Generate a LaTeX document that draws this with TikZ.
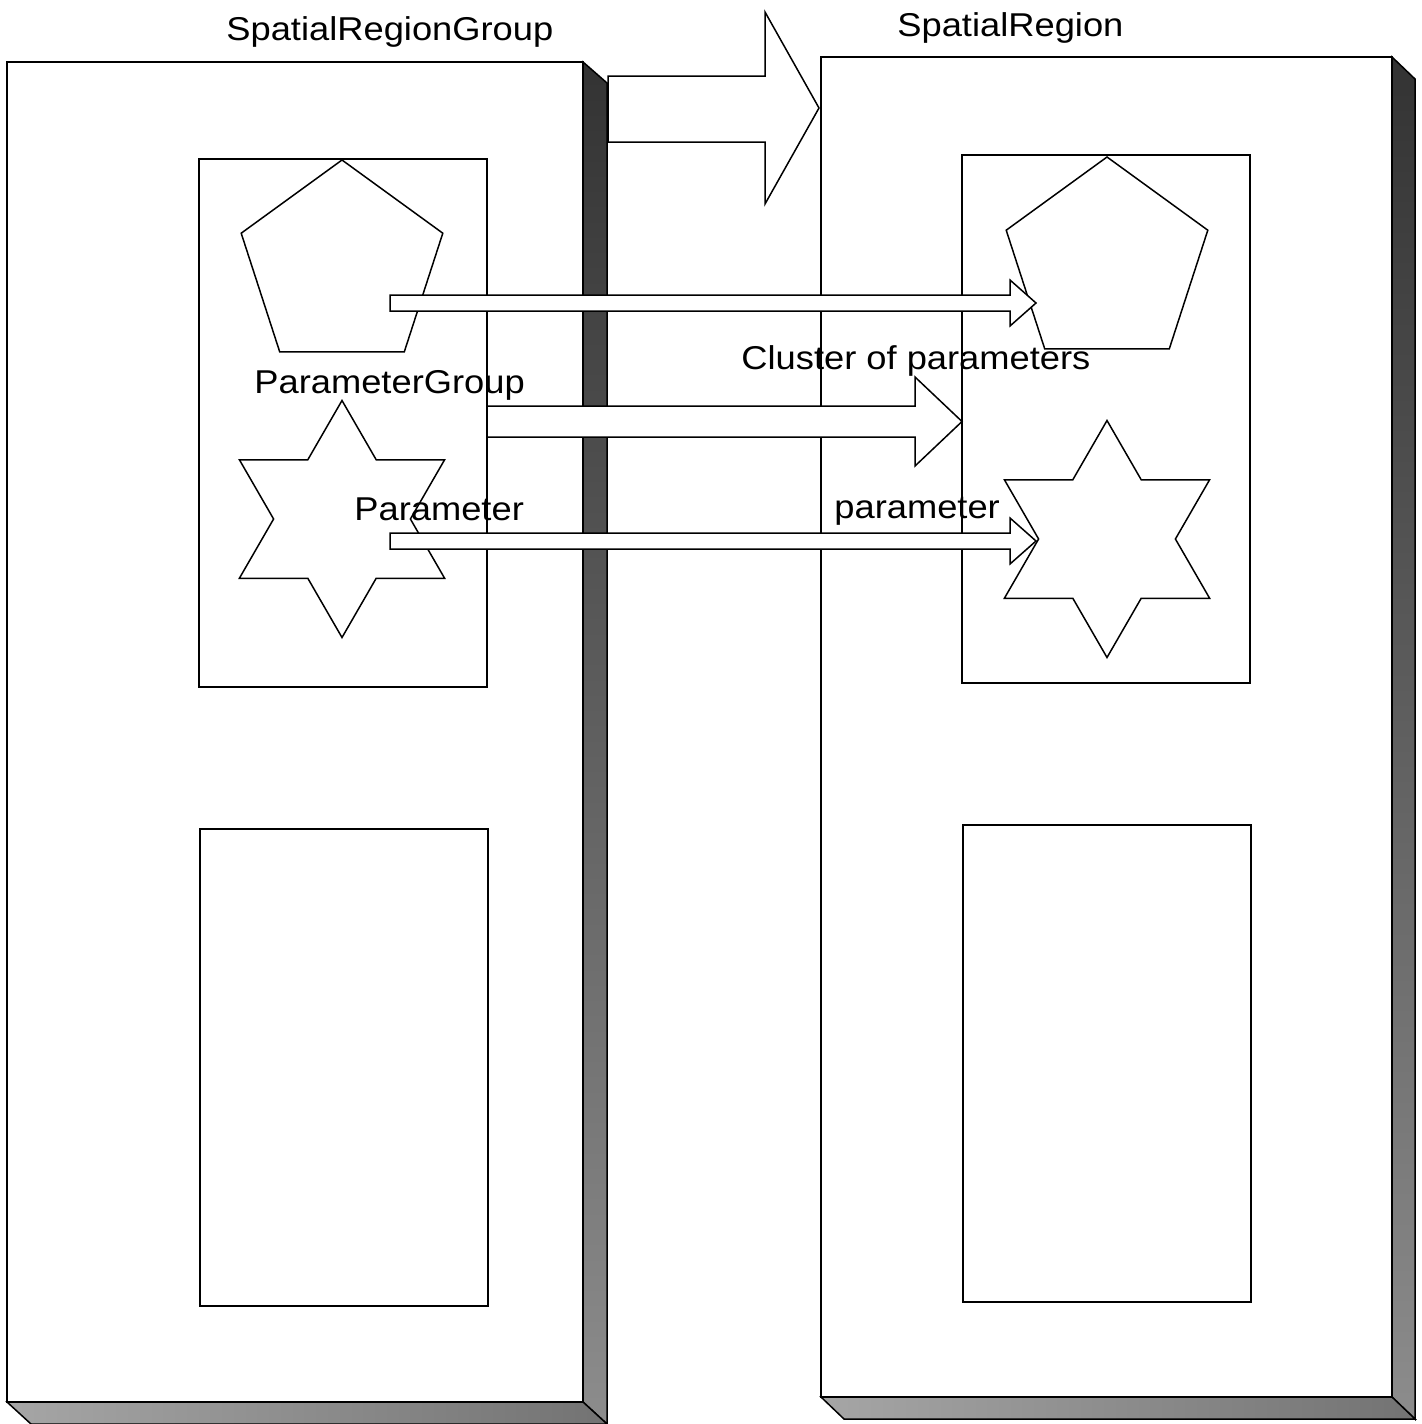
\documentclass[tikz,border=0pt]{standalone}
\usepackage{fontspec}
\setmainfont{Liberation Sans}
\begin{document}
\begin{tikzpicture}[x=0.5pt,y=-0.5pt,line join=miter,
  edge/.style={draw=black,line width=0.75pt},
  face/.style={edge,fill=white},
  sideface/.style={edge,top color=black!80,bottom color=black!45},
  bottomface/.style={edge,left color=black!35,right color=black!55},
  fatarrow/.style={edge,fill=white},
  lbl/.style={anchor=base west,inner sep=0pt,font=\fontsize{16.5pt}{19pt}\selectfont}]
\useasboundingbox (0,0) rectangle (1421,1424);
% left 3D box
\path[sideface] (583,62) -- (607,83) -- (607,1424) -- (583,1402) -- cycle;
\path[bottomface] (7,1402) -- (583,1402) -- (607,1424) -- (31,1424) -- cycle;
\path[face] (7,62) rectangle (583,1402);
% right 3D box
\path[sideface] (1392,57) -- (1415,79) -- (1415,1419) -- (1392,1397) -- cycle;
\path[bottomface] (821,1397) -- (1392,1397) -- (1415,1419) -- (844,1419) -- cycle;
\path[face] (821,57) rectangle (1392,1397);
% inner rectangles
\path[face] (199,159) rectangle (487,687);
\path[face] (200,829) rectangle (488,1306);
\path[face] (962,155) rectangle (1250,683);
\path[face] (963,825) rectangle (1251,1302);
% pentagons
\path[edge] (342,160) -- (442.8,233.2) -- (404.3,351.8) -- (279.7,351.8) -- (241.2,233.2) -- cycle;
\path[edge] (1107,157) -- (1207.8,230.2) -- (1169.3,348.8) -- (1044.7,348.8) -- (1006.2,230.2) -- cycle;
% stars
\foreach \cx/\cy in {342/519,1107/539}{
\begin{scope}[shift={(\cx,\cy)}]
\path[edge] (0,-118.5) -- (34.2,-59.25) -- (102.6,-59.25) -- (68.4,0) -- (102.6,59.25) -- (34.2,59.25)
 -- (0,118.5) -- (-34.2,59.25) -- (-102.6,59.25) -- (-68.4,0) -- (-102.6,-59.25) -- (-34.2,-59.25) -- cycle;
\end{scope}}
% big top arrow
\path[fatarrow] (608,76) -- (765,76) -- (765,12) -- (819,108) -- (765,204) -- (765,142) -- (608,142) -- cycle;
% pentagon arrow
\path[fatarrow] (390,295) -- (1010,295) -- (1010,280) -- (1036,303) -- (1010,326) -- (1010,311) -- (390,311) -- cycle;
% cluster arrow
\path[fatarrow] (487,406) -- (915,406) -- (915,377) -- (962,421.5) -- (915,466) -- (915,437) -- (487,437) -- cycle;
% parameter arrow
\path[fatarrow] (390,533) -- (1010,533) -- (1010,518) -- (1036,541) -- (1010,564) -- (1010,549) -- (390,549) -- cycle;
% labels
\node[lbl] (t1) at (226,40) {\scalebox{1.10}[1]{SpatialRegionGroup}};
\node[lbl] (t2) at (897,36) {\scalebox{1.10}[1]{SpatialRegion}};
\node[lbl] (t3) at (741,369) {\scalebox{1.10}[1]{Cluster of parameters}};
\node[lbl] (t4) at (254,393) {\scalebox{1.10}[1]{ParameterGroup}};
\node[lbl] (t5) at (354,520) {\scalebox{1.10}[1]{Parameter}};
\node[lbl] (t6) at (834,518) {\scalebox{1.10}[1]{parameter}};
\end{tikzpicture}
\end{document}
